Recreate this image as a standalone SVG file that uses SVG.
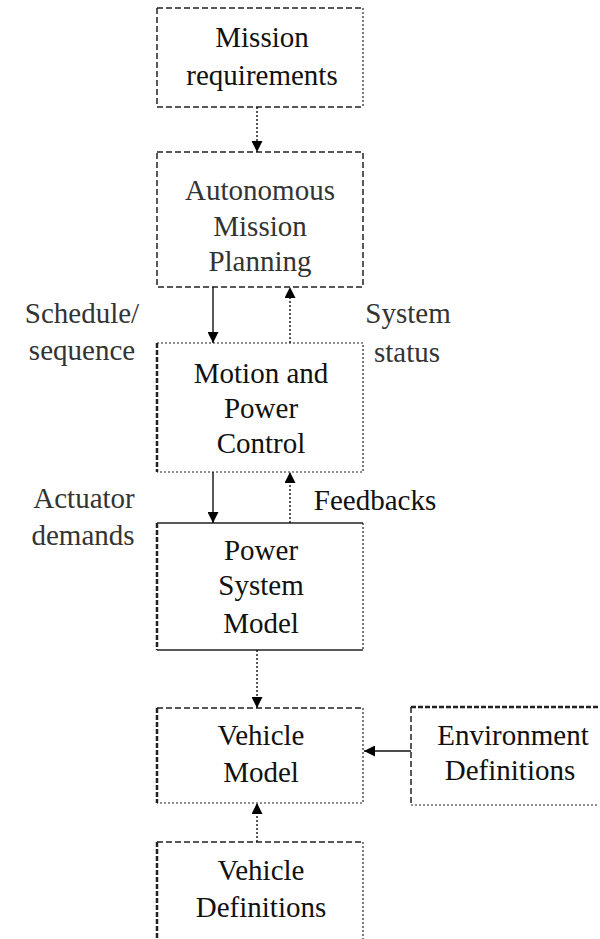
<svg xmlns="http://www.w3.org/2000/svg" width="600" height="939" viewBox="0 0 600 939">
  <style>
    text { font-family: "Liberation Serif", "Times New Roman", serif; font-size: 29px; fill: #111; text-anchor: middle; }
    .soft { fill: #333; }
    .edge { fill: none; stroke: #222; }
    .solid { stroke-width: 1.5; }
    .dash { stroke-width: 1.5; stroke-dasharray: 6 3; }
    .dot { stroke-width: 1.2; stroke-dasharray: 2 2; }
    .thick { stroke-width: 2.5; stroke-dasharray: 5 2; }
    .conn { fill: none; stroke: #111; stroke-width: 1.4; }
    .conn.dotted { stroke-dasharray: 2 2; }
  </style>
  <defs>
    <marker id="head" viewBox="0 0 10 10" refX="10" refY="5" markerWidth="11" markerHeight="11" markerUnits="userSpaceOnUse" orient="auto">
      <path d="M0,0 L10,5 L0,10 Z" fill="#000"/>
    </marker>
  </defs>

  <rect width="600" height="939" fill="#fff"/>

  <!-- Mission requirements -->
  <g id="mission-requirements">
    <path class="edge dash" d="M157,8 H363"/>
    <path class="edge dot" d="M363,8 V107"/>
    <path class="edge dash" d="M157,107 H363"/>
    <path class="edge dash" d="M157,8 V107"/>
    <text x="262" y="47">Mission</text>
    <text x="262" y="85">requirements</text>
  </g>

  <!-- Autonomous Mission Planning -->
  <g id="mission-planning">
    <path class="edge dash" d="M157,152 H363 V287 H157 Z"/>
    <text class="soft" x="260" y="200">Autonomous</text>
    <text class="soft" x="260" y="236">Mission</text>
    <text class="soft" x="260" y="271">Planning</text>
  </g>

  <!-- Motion and Power Control -->
  <g id="motion-control">
    <path class="edge dot" d="M157,343 H363 V472 H157"/>
    <path class="edge thick" d="M157,343 V472"/>
    <text x="261" y="383">Motion and</text>
    <text x="261" y="418">Power</text>
    <text x="261" y="453">Control</text>
  </g>

  <!-- Power System Model -->
  <g id="power-model">
    <path class="edge solid" d="M157,523 H363"/>
    <path class="edge dot" d="M363,523 V650"/>
    <path class="edge solid" d="M157,650 H363"/>
    <path class="edge thick" d="M157,523 V650"/>
    <text x="261" y="560">Power</text>
    <text x="261" y="595">System</text>
    <text x="261" y="633">Model</text>
  </g>

  <!-- Vehicle Model -->
  <g id="vehicle-model">
    <path class="edge dash" d="M157,708 H363"/>
    <path class="edge dot" d="M363,708 V803 H157"/>
    <path class="edge thick" d="M157,708 V803"/>
    <text x="261" y="745">Vehicle</text>
    <text x="261" y="782">Model</text>
  </g>

  <!-- Environment Definitions -->
  <g id="environment-definitions">
    <path class="edge thick" d="M411,707 H598"/>
    <path class="edge dash" d="M411,707 V805"/>
    <path class="edge dot" d="M411,805 H598"/>
    <text x="513" y="745">Environment</text>
    <text x="510" y="780">Definitions</text>
  </g>

  <!-- Vehicle Definitions -->
  <g id="vehicle-definitions">
    <path class="edge dash" d="M157,842 H363"/>
    <path class="edge dot" d="M363,842 V939"/>
    <path class="edge thick" d="M157,842 V939"/>
    <text x="261" y="880">Vehicle</text>
    <text x="261" y="917">Definitions</text>
  </g>

  <!-- Side labels -->
  <g id="labels">
    <text class="soft" x="82" y="323">Schedule/</text>
    <text class="soft" x="82" y="360">sequence</text>
    <text class="soft" x="408" y="323">System</text>
    <text class="soft" x="407" y="362">status</text>
    <text x="375" y="510">Feedbacks</text>
    <text class="soft" x="84" y="508">Actuator</text>
    <text class="soft" x="83" y="545">demands</text>
  </g>

  <!-- Connectors -->
  <g id="connectors">
    <path class="conn dotted" d="M257,107 V152" marker-end="url(#head)"/>
    <path class="conn" d="M213,287 V343" marker-end="url(#head)"/>
    <path class="conn dotted" d="M290,343 V287" marker-end="url(#head)"/>
    <path class="conn" d="M213,472 V523" marker-end="url(#head)"/>
    <path class="conn dotted" d="M290,523 V472" marker-end="url(#head)"/>
    <path class="conn dotted" d="M257,650 V708" marker-end="url(#head)"/>
    <path class="conn" d="M411,751 H364" marker-end="url(#head)"/>
    <path class="conn dotted" d="M257,842 V803" marker-end="url(#head)"/>
  </g>
</svg>
